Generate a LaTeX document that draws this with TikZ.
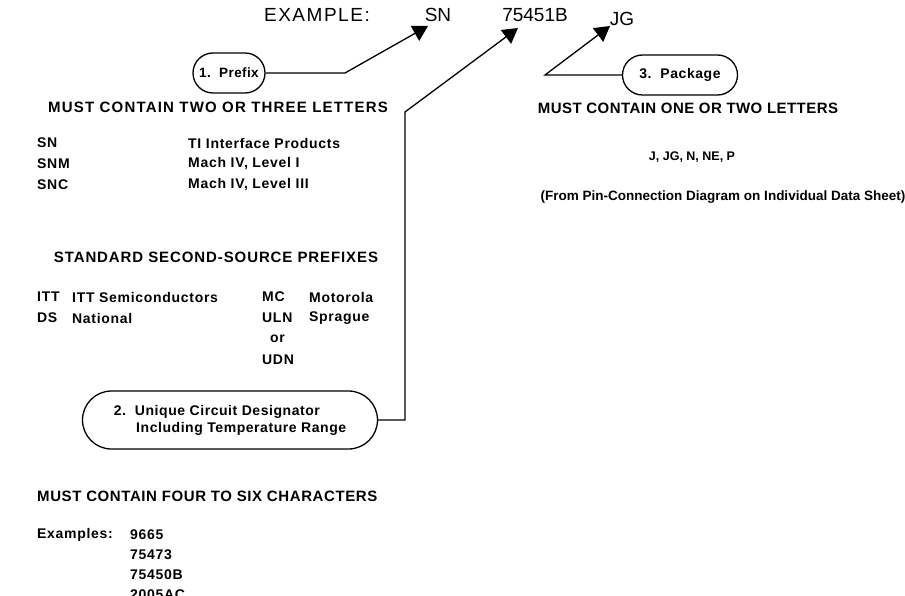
\documentclass[tikz,border=0pt]{standalone}
\usepackage{fontspec}
\setmainfont{Liberation Sans}
\usetikzlibrary{arrows.meta, positioning}
\newcommand{\spaced}[1]{\addfontfeature{LetterSpace=#1}}
\tikzstyle{field} = [rectangle, rounded corners=20pt, draw=black, line width=1.3pt, minimum height=40pt, font=\bfseries\fontsize{14}{17}\selectfont\spaced{4}, align=left]
\tikzstyle{rule} = [font=\bfseries\fontsize{15}{18}\selectfont\spaced{4}, inner sep=0pt]
\tikzstyle{entry} = [font=\bfseries\fontsize{14}{16}\selectfont\spaced{5}, inner sep=0pt, anchor=west]
\tikzstyle{part} = [font=\fontsize{19}{22}\selectfont, inner sep=0pt]
\tikzstyle{arrow} = [line width=1.3pt, -{Triangle[length=15pt, width=17pt]}]

\begin{document}
\begin{tikzpicture}[x=1pt, y=-1pt]
\useasboundingbox (0,0) rectangle (905,596);

% Part number
\node[part, anchor=east, font=\fontsize{19}{22}\selectfont\spaced{8}] (example) at (370,15) {EXAMPLE:};
\node[part] (sn) at (438,15) {SN};
\node[part] (num) at (535,15) {75451B};
\node[part] (jg) at (622,19) {JG};

% Fields
\node[field, minimum width=72pt, font=\bfseries\fontsize{13.5}{16}\selectfont\spaced{3}] (prefix) at (229,73) {1.\ \ Prefix};
\node[field, rounded corners=29pt, minimum width=295pt, minimum height=58pt] (unique) at (230,420) {2.\ \ Unique Circuit Designator\\\hspace*{1.6em}Including Temperature Range};
\node[field, minimum width=115pt] (package) at (680,75) {3.\ \ Package};

% Arrows
\coordinate (prefixBend) at (345,73);
\coordinate (uniqueBend) at (405,112);
\coordinate (packageBend) at (545,75);
\coordinate (snTip) at (428,26);
\coordinate (numTip) at (518,28);
\coordinate (jgTip) at (610,26);
\draw[arrow] (prefix.east) -- (prefixBend) -- (snTip);
\draw[arrow] (unique.east) -| (uniqueBend) -- (numTip);
\draw[arrow] (package.west) -- (packageBend) -- (jgTip);

% Prefix
\node[rule, font=\bfseries\fontsize{15}{18}\selectfont\spaced{8}] (prefixRule) at (218,107) {MUST CONTAIN TWO OR THREE LETTERS};
\node[entry] (sn1) at (37,143) {SN};
\node[entry] (sn1d) at (188,143) {TI Interface Products};
\node[entry] (sn2) at (37,164) {SNM};
\node[entry] (sn2d) at (188,164) {Mach IV, Level I};
\node[entry] (sn3) at (37,185) {SNC};
\node[entry] (sn3d) at (188,185) {Mach IV, Level III};

\node[rule, font=\bfseries\fontsize{15}{18}\selectfont\spaced{6}] (secondRule) at (216,257) {STANDARD SECOND-SOURCE PREFIXES};
\node[entry] (itt) at (37,297) {ITT};
\node[entry] (ittd) at (72,297) {ITT Semiconductors};
\node[entry] (ds) at (37,318) {DS};
\node[entry] (dsd) at (72,318) {National};
\node[entry] (mc) at (262,297) {MC};
\node[entry] (mcd) at (309,297) {Motorola};
\node[entry] (uln) at (262,318) {ULN};
\node[entry] (ulnd) at (309,318) {Sprague};
\node[entry] (or) at (270,339) {or};
\node[entry] (udn) at (262,360) {UDN};

% Circuit designator
\node[rule, anchor=west] (uniqueRule) at (37,496) {MUST CONTAIN FOUR TO SIX CHARACTERS};
\node[entry] (examples) at (37,535) {Examples:};
\node[entry] (ex1) at (130,535) {9665};
\node[entry] (ex2) at (130,555) {75473};
\node[entry] (ex3) at (130,575) {75450B};
\node[entry] (ex4) at (130,595) {2005AC};

% Package
\node[rule, font=\bfseries\fontsize{15}{18}\selectfont\spaced{3}] (packageRule) at (688,108) {MUST CONTAIN ONE OR TWO LETTERS};
\node[entry, anchor=center, font=\bfseries\fontsize{12.5}{15}\selectfont] (codes) at (692,157) {J, JG, N, NE, P};
\node[entry, anchor=center, font=\bfseries\fontsize{13.5}{16}\selectfont] (source) at (723,197) {(From Pin-Connection Diagram on Individual Data Sheet)};

\end{tikzpicture}
\end{document}
